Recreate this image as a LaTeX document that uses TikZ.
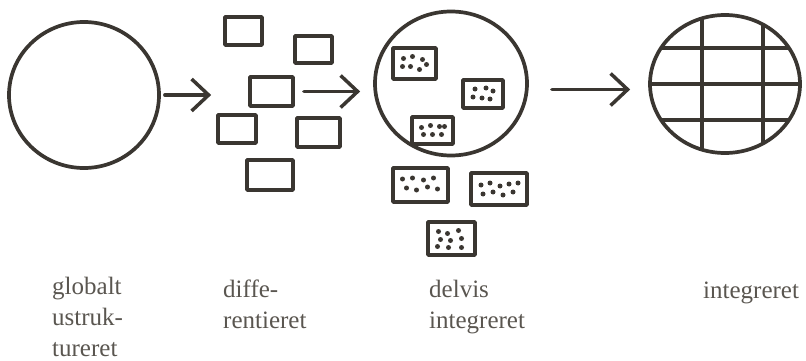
\documentclass[tikz,border=0pt]{standalone}
\usepackage{fontspec}
\setmainfont{Liberation Serif}
\usetikzlibrary{arrows.meta,shapes}
\definecolor{ink}{HTML}{3A3631}
\definecolor{print}{HTML}{5A5650}
\tikzstyle{arrow} = [draw,ink,line width=3.5pt,-{Straight Barb[length=17pt,width=32pt,line width=3.5pt]}]

\begin{document}
\begin{tikzpicture}[x=1pt,y=-1pt,line cap=round,line join=round,
  blob/.style={ellipse,draw=ink,line width=3.7pt,inner sep=0pt},
  empty box/.style={rectangle,draw=ink,line width=3.7pt,inner sep=0pt},
  dot box/.style={empty box,path picture={
      \foreach \a/\b in {#1}
        \fill[ink] ([shift={(\a,\b)}]path picture bounding box.center) circle (2.5pt);}},
  label/.style={print,align=left,anchor=base west,inner sep=0pt,
    font=\fontsize{25}{31}\selectfont}]

  \useasboundingbox (0,0) rectangle (806,361);

  % globalt ustruktureret
  \node[blob,minimum width=150,minimum height=146] (glob) at (84,95) {};

  % differentieret
  \node[empty box,minimum width=37,minimum height=28] (r1) at (243.5,31) {};
  \node[empty box,minimum width=37,minimum height=27] (r2) at (313.5,49.5) {};
  \node[empty box,minimum width=43,minimum height=29] (r3) at (271.5,91.5) {};
  \node[empty box,minimum width=38,minimum height=28] (r4) at (237,129) {};
  \node[empty box,minimum width=43,minimum height=29] (r5) at (318.5,132.5) {};
  \node[empty box,minimum width=46,minimum height=30] (r6) at (270,175) {};

  % delvis integreret
  \node[blob,minimum width=152,minimum height=144] (part) at (451,83.5) {};
  \node[dot box={-11/-5,-2/-7,8/-4,-12/3,-4/3,5/6,12/1},minimum width=43,minimum height=31] (d1) at (414.5,63.5) {};
  \node[dot box={-8/-5,3/-6,10/-3,-10/3,-1/4,7/5},minimum width=40,minimum height=28] (d2) at (483,94) {};
  \node[dot box={-11/-3,-2/-5,7/-4,12/-4,-9/4,0/4,9/4},minimum width=41,minimum height=27] (d3) at (432.5,130.5) {};
  \node[dot box={-18/-6,-8/-7,3/-5,13/-7,-14/3,-4/5,7/2,17/4},minimum width=55,minimum height=34] (d4) at (420.5,185) {};
  \node[dot box={-18/-4,-9/-6,1/-3,10/-5,19/-6,-16/5,-6/3,4/6,14/3},minimum width=56,minimum height=32] (d5) at (499,189) {};
  \node[dot box={-13/-7,-4/-5,7/-8,-11/1,-1/2,10/0,-14/8,-3/9,10/9},minimum width=47,minimum height=33] (d6) at (451.5,238.5) {};

  % integreret
  \node[blob,minimum width=150,minimum height=138,path picture={
      \draw[ink,line width=3.5pt]
        ([xshift=-23pt]path picture bounding box.north) -- ([xshift=-23pt]path picture bounding box.south)
        ([xshift=38pt]path picture bounding box.north) -- ([xshift=38pt]path picture bounding box.south)
        ([yshift=36pt]path picture bounding box.west) -- ([yshift=36pt]path picture bounding box.east)
        (path picture bounding box.west) -- (path picture bounding box.east)
        ([yshift=-36pt]path picture bounding box.west) -- ([yshift=-36pt]path picture bounding box.east);}]
    (whole) at (725,84) {};

  \path[arrow,shorten <=4pt,shorten >=5pt] (glob.east) -- (glob.east -| r4.west);
  \path[arrow,shorten <=9pt,shorten >=13pt] (r3.east) -- (r3.east -| part.west);
  \path[arrow,shorten <=23pt,shorten >=18pt] ([yshift=-6pt]part.east) -- ([yshift=-6pt]part.east -| whole.west);

  % labels (anchored at the baseline of their last line)
  \node[label] (l1) at (52,356) {globalt\\ustruk-\\tureret};
  \node[label] (l2) at (223,328) {diffe-\\rentieret};
  \node[label] (l3) at (429,328) {delvis\\integreret};
  \node[label] (l4) at (703,298) {integreret};

\end{tikzpicture}
\end{document}
